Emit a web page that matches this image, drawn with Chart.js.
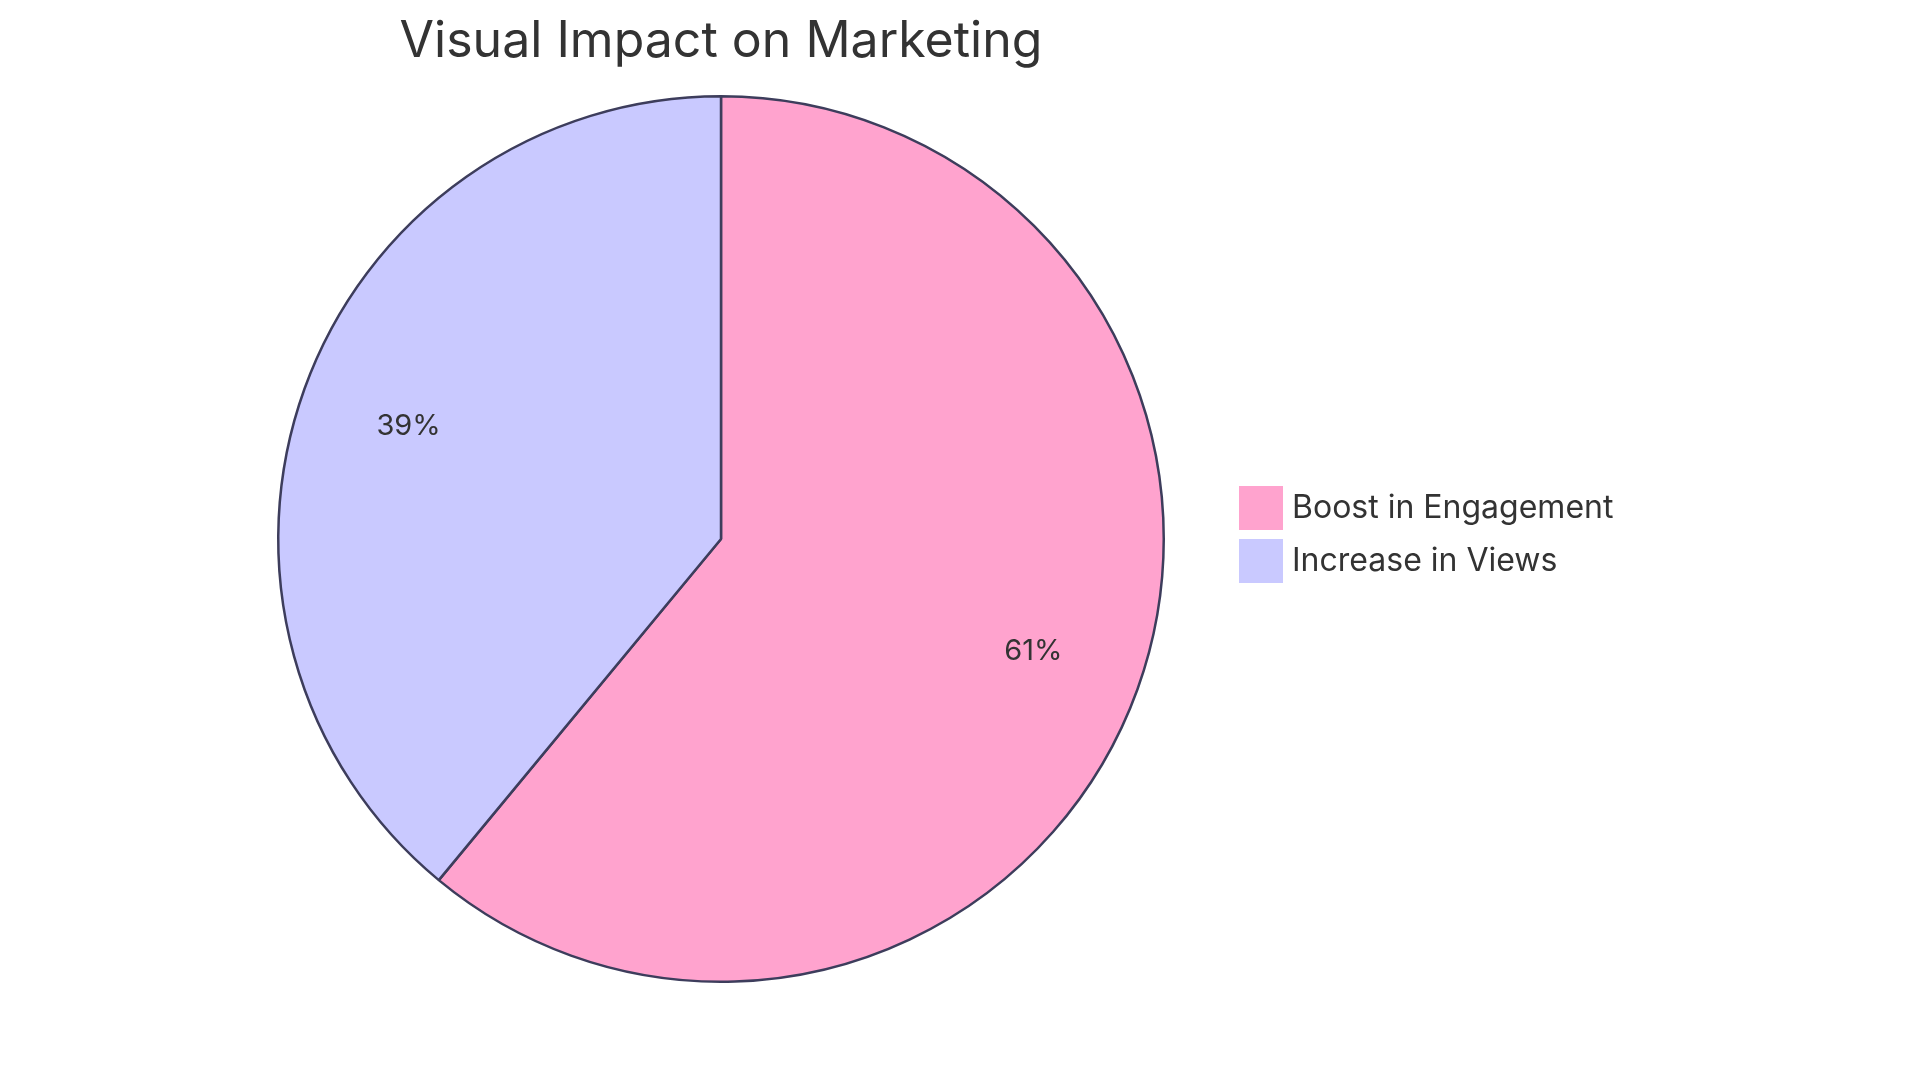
<!DOCTYPE html>
<html><head><meta charset="utf-8">
<script src="https://cdn.jsdelivr.net/npm/chart.js@4/dist/chart.umd.min.js"></script>
<style>html,body{margin:0;padding:0;background:#fff;}#wrap{width:1920px;height:1083px;}</style>
</head><body><div id="wrap"><canvas id="c" width="1920" height="1083"></canvas></div>
<script>
const chartTitle = "Visual Impact on Marketing";
const categories = ["Boost in Engagement", "Increase in Views"];
const values = [61, 39];
const colors = ["#FFA3CE", "#C9C9FF"];
const FONT = "Inter, 'Open Sans', sans-serif";

const overlay = {
  id: 'overlay',
  afterDraw(chart) {
    const ctx = chart.ctx;
    const meta = chart.getDatasetMeta(0);
    const total = values.reduce((a, b) => a + b, 0);
    ctx.save();
    ctx.fillStyle = '#333';
    ctx.textAlign = 'center'; ctx.textBaseline = 'middle';
    meta.data.forEach((arc, i) => {
      const mid = (arc.startAngle + arc.endAngle) / 2;
      const r = arc.outerRadius * 0.75;
      ctx.font = '400 29px ' + FONT;
      ctx.fillText(Math.round(values[i] / total * 100) + '%', arc.x + Math.cos(mid) * r, arc.y + Math.sin(mid) * r);
    });
    ctx.font = '400 50px ' + FONT;
    ctx.fillText(chartTitle, meta.data[0].x, 42);
    ctx.textAlign = 'left';
    categories.forEach((c, i) => {
      const y = 508 + i * 53;
      ctx.fillStyle = colors[i];
      ctx.fillRect(1239, y - 22, 44, 44);
      ctx.fillStyle = '#333';
      ctx.font = '400 32px ' + FONT;
      ctx.fillText(c, 1292, y);
    });
    ctx.restore();
  }
};

new Chart(document.getElementById('c'), {
  type: 'pie',
  data: { labels: categories, datasets: [{ data: values, backgroundColor: colors, borderColor: '#3d3d5c', borderWidth: 2.5 }] },
  options: {
    responsive: false, animation: false,
    layout: { padding: { top: 95, bottom: 100, left: 277, right: 755 } },
    plugins: { legend: { display: false }, tooltip: { enabled: false } }
  },
  plugins: [overlay]
});
</script></body></html>
